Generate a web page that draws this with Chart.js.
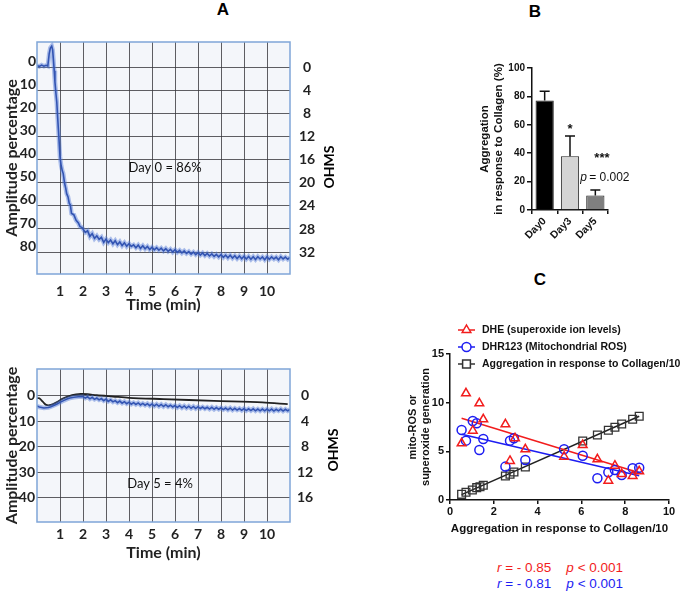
<!DOCTYPE html>
<html>
<head>
<meta charset="utf-8">
<script src="https://cdn.jsdelivr.net/npm/chart.js@4.4.1/dist/chart.umd.min.js"></script>
<style>
  body { margin: 0; background: #fff; }
  #page { position: relative; width: 685px; height: 596px; overflow: hidden; font-family: "Liberation Sans", Arial, sans-serif; }
  canvas { position: absolute; }
  .lbl { position: absolute; font-weight: bold; font-size: 17px; transform: translate(-50%, -50%); }
  .ohms { position: absolute; font-family: Lato, sans-serif; font-weight: bold; font-size: 14px; transform: translate(-50%, -50%) rotate(-90deg); }
  .stat { position: absolute; font-size: 13.5px; white-space: pre; transform: translate(-50%, -50%); }
</style>
</head>
<body>
<div id="page">
  <canvas id="traceDay0" width="350" height="278" style="left:0;top:36px;width:350px;height:278px"></canvas>
  <canvas id="traceDay5" width="350" height="200" style="left:0;top:362px;width:350px;height:200px"></canvas>
  <canvas id="aggBars" width="165" height="185" style="left:478px;top:60px;width:165px;height:185px"></canvas>
  <canvas id="rosCorr" width="277" height="226" style="left:406px;top:310px;width:277px;height:226px"></canvas>

  <div class="lbl" style="left:223px;top:10px">A</div>
  <div class="lbl" style="left:535px;top:12px">B</div>
  <div class="lbl" style="left:540px;top:280px">C</div>
  <div class="ohms" style="left:328px;top:167px">OHMS</div>
  <div class="ohms" style="left:332px;top:450px">OHMS</div>
  <div class="stat" style="left:560px;top:567px;color:#f21d1d"><i>r</i> = - 0.85    <i>p</i> &lt; 0.001</div>
  <div class="stat" style="left:560px;top:583px;color:#1d1df2"><i>r</i> = - 0.81    <i>p</i> &lt; 0.001</div>
</div>
<script>
// ---- Panel A : aggregometer traces (time in min, amplitude %) ----
const minuteTicks = [1, 2, 3, 4, 5, 6, 7, 8, 9, 10];
const amplitudeTicksDay0 = [0, 10, 20, 30, 40, 50, 60, 70, 80];
const ohmsTicksDay0 = [0, 4, 8, 12, 16, 20, 24, 28, 32];
const amplitudeTicksDay5 = [0, 10, 20, 30, 40];
const ohmsTicksDay5 = [0, 4, 8, 12, 16];

const dayZeroTime = [0, 0.1, 0.2, 0.3, 0.4, 0.47, 0.53, 0.58, 0.64, 0.68, 0.71, 0.75, 0.78, 0.82, 0.86, 0.9, 0.95, 1.0, 1.05, 1.1,
  1.14, 1.2, 1.25, 1.29, 1.35, 1.4, 1.45, 1.5, 1.6, 1.7, 1.8, 1.87, 1.95, 2.0,
  2.1, 2.2, 2.3, 2.4, 2.5, 2.6, 2.7, 2.8, 2.9, 3.0, 3.1, 3.2, 3.3, 3.4, 3.5, 3.6, 3.7, 3.8, 3.9, 4.0,
  4.1, 4.2, 4.3, 4.4, 4.5, 4.6, 4.7, 4.8, 4.9, 5.0, 5.1, 5.2, 5.3, 5.4, 5.5, 5.6, 5.7, 5.8, 5.9, 6.0,
  6.1, 6.2, 6.3, 6.4, 6.5, 6.6, 6.7, 6.8, 6.9, 7.0, 7.1, 7.2, 7.3, 7.4, 7.5, 7.6, 7.7, 7.8, 7.9, 8.0,
  8.1, 8.2, 8.3, 8.4, 8.5, 8.6, 8.7, 8.8, 8.9, 9.0, 9.1, 9.2, 9.3, 9.4, 9.5, 9.6, 9.7, 9.8, 9.9, 10.0,
  10.1, 10.2, 10.3, 10.4, 10.5, 10.6, 10.7, 10.8, 10.9, 11.0];
const dayZeroAmplitude = [-0.8, -0.4, -1.0, -0.5, -0.9, -0.6, -5.9, -8.4, -9.2, -7.6, -3.8, 1.5, 6.3, 11.0, 15.0, 22.0, 30.0, 38.8, 42.5, 44.8,
  46.0, 50.2, 52.4, 54.7, 56.1, 58.8, 59.6, 63.3, 63.8, 66.2, 67.4, 69.0, 69.3, 70.0,
  71.5, 70.8, 73.2, 72.0, 74.1, 73.0, 74.5, 73.6, 75.8, 74.4, 75.9, 74.8, 76.4, 75.1, 76.8, 75.6, 77.2, 76.0, 77.5, 76.4,
  77.6, 76.9, 78.1, 77.0, 78.4, 77.3, 78.6, 77.6, 78.9, 77.9, 79.0, 78.1, 79.2, 78.3, 79.5, 78.5, 79.7, 78.8, 80.0, 79.0,
  80.1, 79.3, 80.4, 79.5, 80.6, 79.8, 80.9, 80.0, 81.1, 80.2, 81.3, 80.4, 81.5, 80.6, 81.7, 80.8, 81.9, 81.0, 82.1, 81.1,
  82.3, 81.3, 82.5, 81.4, 82.6, 81.6, 82.8, 81.7, 82.9, 81.8, 83.0, 81.9, 83.1, 82.0, 83.2, 82.0, 83.0, 82.1, 83.3, 82.0,
  83.1, 82.1, 83.0, 82.2, 83.3, 82.0, 83.0, 82.2, 83.1, 82.3];

const dayFiveTime = [0, 0.1, 0.2, 0.3, 0.4, 0.5, 0.6, 0.7, 0.85, 1.0, 1.15, 1.3, 1.43, 1.6, 1.8, 2.0,
  2.1, 2.2, 2.3, 2.4, 2.5, 2.6, 2.7, 2.8, 2.9, 3.0, 3.1, 3.2, 3.3, 3.4, 3.5, 3.6, 3.7, 3.8, 3.9, 4.0,
  4.1, 4.2, 4.3, 4.4, 4.5, 4.6, 4.7, 4.8, 4.9, 5.0, 5.1, 5.2, 5.3, 5.4, 5.5, 5.6, 5.7, 5.8, 5.9, 6.0,
  6.1, 6.2, 6.3, 6.4, 6.5, 6.6, 6.7, 6.8, 6.9, 7.0, 7.1, 7.2, 7.3, 7.4, 7.5, 7.6, 7.7, 7.8, 7.9, 8.0,
  8.1, 8.2, 8.3, 8.4, 8.5, 8.6, 8.7, 8.8, 8.9, 9.0, 9.1, 9.2, 9.3, 9.4, 9.5, 9.6, 9.7, 9.8, 9.9, 10.0,
  10.1, 10.2, 10.3, 10.4, 10.5, 10.6, 10.7, 10.8, 10.9, 11.0];
const dayFiveAmplitude = [4.0, 4.4, 4.6, 4.8, 4.7, 4.6, 4.3, 3.9, 3.3, 2.6, 1.9, 1.3, 0.9, 0.6, 0.4, 0.3,
  0.9, 0.4, 1.2, 0.6, 1.4, 0.9, 1.6, 1.1, 1.9, 1.3, 2.2, 1.6, 2.4, 1.9, 2.7, 2.1, 2.9, 2.3, 3.1, 2.5,
  3.3, 2.7, 3.4, 2.8, 3.6, 3.0, 3.7, 3.1, 3.9, 3.2, 4.0, 3.3, 4.1, 3.4, 4.2, 3.5, 4.3, 3.7, 4.4, 3.8,
  4.6, 3.9, 4.7, 4.0, 4.8, 4.1, 4.9, 4.2, 5.0, 4.3, 5.0, 4.4, 5.1, 4.5, 5.2, 4.5, 5.3, 4.6, 5.3, 4.7,
  5.4, 4.8, 5.5, 4.8, 5.6, 4.9, 5.6, 5.0, 5.7, 5.0, 5.8, 5.1, 5.8, 5.1, 5.9, 5.2, 5.9, 5.2, 5.9, 5.2,
  5.9, 5.2, 6.0, 5.3, 5.9, 5.2, 6.0, 5.3, 5.9, 5.4];
const dayFiveBaseTime = [0, 0.1, 0.27, 0.4, 0.6, 0.85, 1.1, 1.4, 1.7, 1.9, 2.2, 2.6, 3.3, 4.0, 5.5, 7.7, 9.8, 10.9];
const dayFiveBaseAmplitude = [0.9, 1.0, 2.5, 3.6, 3.6, 2.6, 1.2, 0.1, -0.5, -0.7, -0.6, -0.2, 0.3, 0.8, 1.3, 2.0, 2.6, 3.3];

// ---- Panel B : aggregation in response to collagen (%) ----
const dayLabels = ['Day0', 'Day3', 'Day5'];
const aggregationMean = [77.2, 37.9, 10.2];
const aggregationSem = [6.5, 14.2, 3.8];

// ---- Panel C : ROS vs aggregation/10 ----
const dheX = [0.53, 0.73, 1.04, 1.34, 1.52, 2.53, 2.74, 2.97, 3.44, 5.21, 6.06, 6.73, 7.23, 7.53, 7.84, 8.34, 8.64];
const dheY = [5.83, 10.96, 7.12, 9.93, 8.29, 7.78, 4.01, 6.34, 5.21, 4.45, 5.65, 4.18, 1.98, 3.52, 2.67, 2.47, 2.95];
const dhrX = [0.53, 0.73, 1.04, 1.22, 1.34, 1.52, 2.53, 2.74, 2.92, 3.44, 5.21, 6.06, 6.73, 7.23, 7.53, 7.84, 8.34, 8.64];
const dhrY = [7.19, 6.10, 8.12, 7.88, 5.14, 6.27, 3.43, 6.10, 6.34, 4.11, 5.21, 4.55, 2.23, 2.85, 3.08, 2.57, 3.26, 3.32];
const aggX = [0.53, 0.73, 1.02, 1.22, 1.37, 1.52, 2.53, 2.74, 2.92, 3.44, 6.06, 6.73, 7.23, 7.53, 7.84, 8.34, 8.64];
const aggY = [0.58, 0.79, 1.03, 1.27, 1.37, 1.51, 2.47, 2.64, 2.88, 3.39, 6.06, 6.68, 7.16, 7.47, 7.81, 8.29, 8.60];
const fitX = [0.53, 8.64];
const dheFitY = [8.4, 2.8];
const dhrFitY = [6.75, 2.5];
const aggFitY = [0.55, 8.6];

const RED = '#f21d1d';
const BLUE = '#1d1df2';
const INK = '#111';

function toPoints(xs, ys) {
    return xs.map((x, i) => ({ x: x, y: ys[i] }));
}

// fond "papier" + cadre bleu du tracé
const paper = {
    id: 'paper',
    beforeDraw(chart, args, opts) {
        if (!opts.fill) return;
        const { ctx, chartArea: a } = chart;
        ctx.save();
        ctx.fillStyle = opts.fill;
        ctx.fillRect(a.left, a.top, a.width, a.height);
        ctx.restore();
    },
    afterDraw(chart, args, opts) {
        if (!opts.frame) return;
        const { ctx, chartArea: a } = chart;
        ctx.save();
        ctx.strokeStyle = opts.frame;
        ctx.lineWidth = 1.5;
        ctx.strokeRect(a.left, a.top, a.width, a.height);
        ctx.restore();
    }
};

// textes placés en coordonnées de données
const notes = {
    id: 'notes',
    afterDatasetsDraw(chart, args, opts) {
        if (!opts.items) return;
        const { ctx, scales } = chart;
        ctx.save();
        opts.items.forEach(n => {
            ctx.font = n.font;
            ctx.fillStyle = n.color || INK;
            ctx.textAlign = n.align || 'center';
            ctx.textBaseline = 'middle';
            ctx.fillText(n.text, scales.x.getPixelForValue(n.x) + (n.dx || 0), scales.y.getPixelForValue(n.y));
        });
        ctx.restore();
    }
};

// barres d'erreur (vers le haut seulement)
const errorBars = {
    id: 'errorBars',
    afterDatasetsDraw(chart) {
        const { ctx, scales: { y } } = chart;
        chart.data.datasets.forEach((ds, i) => {
            if (!ds.errorPlus) return;
            chart.getDatasetMeta(i).data.forEach((bar, j) => {
                const top = y.getPixelForValue(ds.data[j] + ds.errorPlus[j]);
                ctx.save();
                ctx.strokeStyle = INK;
                ctx.lineWidth = 1.5;
                ctx.beginPath();
                ctx.moveTo(bar.x, bar.y);
                ctx.lineTo(bar.x, top);
                ctx.moveTo(bar.x - 5, top);
                ctx.lineTo(bar.x + 5, top);
                ctx.stroke();
                ctx.restore();
            });
        });
    }
};

function drawMarker(ctx, style, r, x, y) {
    ctx.beginPath();
    if (style === 'circle') {
        ctx.arc(x, y, r, 0, Math.PI * 2);
    } else if (style === 'triangle') {
        ctx.moveTo(x, y - r);
        ctx.lineTo(x + r * 0.866, y + r * 0.5);
        ctx.lineTo(x - r * 0.866, y + r * 0.5);
        ctx.closePath();
    } else {
        const s = r * Math.SQRT1_2;
        ctx.rect(x - s, y - s, 2 * s, 2 * s);
    }
    ctx.fill();
    ctx.stroke();
}

// légende "ligne + symbole" dans la zone du graphique
const lineLegend = {
    id: 'lineLegend',
    afterDraw(chart, args, opts) {
        if (!opts.items) return;
        const { ctx, chartArea } = chart;
        ctx.save();
        ctx.font = opts.font;
        ctx.textBaseline = 'middle';
        opts.items.forEach((idx, i) => {
            const ds = chart.data.datasets[idx];
            const y = chartArea.top + opts.top + i * opts.rowHeight;
            const x0 = chartArea.left + opts.left;
            ctx.strokeStyle = ds.borderColor;
            ctx.lineWidth = 1.5;
            ctx.beginPath();
            ctx.moveTo(x0, y);
            ctx.lineTo(x0 + opts.lineLength, y);
            ctx.stroke();
            ctx.fillStyle = '#fff';
            drawMarker(ctx, ds.pointStyle, ds.pointRadius, x0 + opts.lineLength / 2, y);
            ctx.fillStyle = INK;
            ctx.fillText(ds.label, x0 + opts.lineLength + 7, y);
        });
        ctx.restore();
    }
};

const fontA = { family: 'Lato', weight: 'bold', size: 14 };
const titleFontA = { family: 'Lato', weight: 'bold', size: 16 };
const gridA = 'rgba(55,55,60,0.8)';

// pas de marge automatique autour des axes : la zone de tracé est fixée à la main
function noPad(s) {
    s.paddingTop = 0;
    s.paddingBottom = 0;
    s.paddingLeft = 0;
    s.paddingRight = 0;
}

function traceOptions(cfg) {
    return {
        responsive: false,
        animation: false,
        devicePixelRatio: 1,
        layout: { padding: { top: cfg.padTop, left: 0, right: 0, bottom: 0 } },
        plugins: {
            legend: { display: false },
            tooltip: { enabled: false },
            paper: { fill: '#f4f6fa', frame: '#7fa5d8' },
            notes: { items: cfg.notes }
        },
        scales: {
            x: {
                type: 'linear', min: 0, max: 11,
                afterBuildTicks: s => { s.ticks = minuteTicks.map(v => ({ value: v })); },
                afterFit: s => { s.height = cfg.xHeight; noPad(s); },
                grid: { color: gridA, drawTicks: false },
                border: { display: false },
                ticks: { font: fontA, color: '#222', padding: cfg.xPad },
                title: { display: true, text: 'Time (min)', font: titleFontA, color: '#222', padding: { top: 0, bottom: 0 } }
            },
            y: {
                type: 'linear', position: 'left', reverse: true, min: cfg.min, max: cfg.max,
                afterBuildTicks: s => { s.ticks = cfg.leftTicks.map(v => ({ value: v })); },
                afterFit: s => { s.width = 37; noPad(s); },
                grid: { color: gridA, drawTicks: false },
                border: { display: false },
                ticks: { font: fontA, color: '#222', padding: cfg.yPad, labelOffset: cfg.yOffset },
                title: { display: true, text: 'Amplitude percentage', font: titleFontA, color: '#222', padding: { top: 2, bottom: 0 } }
            },
            ohms: {
                type: 'linear', position: 'right', reverse: true, min: cfg.min / 2.5, max: cfg.max / 2.5,
                afterBuildTicks: s => { s.ticks = cfg.rightTicks.map(v => ({ value: v })); },
                afterFit: s => { s.width = 60; noPad(s); },
                grid: { display: false, drawTicks: false },
                border: { display: false },
                ticks: { font: fontA, color: '#222', padding: cfg.rPad, crossAlign: 'center' }
            }
        }
    };
}

new Chart(document.getElementById('traceDay0'), {
    type: 'line',
    data: {
        datasets: [
            { data: toPoints(dayZeroTime, dayZeroAmplitude), borderColor: 'rgba(80,120,215,0.45)', borderWidth: 4.5, pointRadius: 0 },
            { data: toPoints(dayZeroTime, dayZeroAmplitude), borderColor: '#1b3794', borderWidth: 1.6, pointRadius: 0 }
        ]
    },
    options: traceOptions({
        padTop: 6, min: -11, max: 89.5, xHeight: 40, xPad: 9, yPad: 1, yOffset: -6, rPad: 9,
        leftTicks: amplitudeTicksDay0, rightTicks: ohmsTicksDay0,
        notes: [{ text: 'Day 0 = 86%', x: 5.57, y: 43.7, font: '13px Lato' }]
    }),
    plugins: [paper, notes]
});

new Chart(document.getElementById('traceDay5'), {
    type: 'line',
    data: {
        datasets: [
            { data: toPoints(dayFiveTime, dayFiveAmplitude), borderColor: 'rgba(80,120,215,0.45)', borderWidth: 4.5, pointRadius: 0 },
            { data: toPoints(dayFiveTime, dayFiveAmplitude), borderColor: '#1b3794', borderWidth: 1.6, pointRadius: 0 },
            { data: toPoints(dayFiveBaseTime, dayFiveBaseAmplitude), borderColor: '#222', borderWidth: 1.8, pointRadius: 0, tension: 0.3 }
        ]
    },
    options: traceOptions({
        padTop: 7, min: -10.5, max: 49.5, xHeight: 40, xPad: 4, yPad: 2, yOffset: 0, rPad: 7,
        leftTicks: amplitudeTicksDay5, rightTicks: ohmsTicksDay5,
        notes: [{ text: 'Day 5 = 4%', x: 5.35, y: 34.6, font: '13px Lato' }]
    }),
    plugins: [paper, notes]
});

new Chart(document.getElementById('aggBars'), {
    type: 'bar',
    data: {
        labels: dayLabels,
        datasets: [{
            data: aggregationMean,
            errorPlus: aggregationSem,
            backgroundColor: ['#000000', '#d4d4d4', '#7f7f7f'],
            borderColor: '#222',
            borderWidth: 1,
            barPercentage: 0.72,
            categoryPercentage: 1
        }]
    },
    options: {
        responsive: false,
        animation: false,
        devicePixelRatio: 1,
        layout: { padding: { top: 6, right: 35, left: 0, bottom: 0 } },
        plugins: {
            legend: { display: false },
            tooltip: { enabled: false },
            notes: {
                items: [
                    { text: '*', x: 1, y: 57, font: 'bold 13px "Liberation Sans"' },
                    { text: '***', x: 2.26, y: 36.5, font: 'bold 13px "Liberation Sans"' },
                    { text: 'p', x: 1.4, y: 23, font: 'italic 12px "Liberation Sans"', align: 'left' },
                    { text: '= 0.002', x: 1.4, y: 23, dx: 9, font: '12px "Liberation Sans"', align: 'left' }
                ]
            }
        },
        scales: {
            x: {
                afterFit: s => { s.height = 35; },
                grid: { drawOnChartArea: false, tickLength: 4, color: INK, lineWidth: 1.5 },
                border: { color: INK, width: 1.5 },
                ticks: { font: { weight: 'bold', size: 10.5 }, color: INK, minRotation: 45, maxRotation: 45, padding: 1 }
            },
            y: {
                min: 0, max: 100,
                afterFit: s => { s.width = 54; },
                grid: { drawOnChartArea: false, tickLength: 5, color: INK, lineWidth: 1.5 },
                border: { color: INK, width: 1.5 },
                ticks: { stepSize: 20, font: { weight: 'bold', size: 10 }, color: INK, padding: 2 },
                title: { display: true, text: ['Aggregation', 'in response to Collagen (%)'], font: { weight: 'bold', size: 11.5 }, color: INK, padding: 0 }
            }
        }
    },
    plugins: [notes, errorBars]
});

new Chart(document.getElementById('rosCorr'), {
    type: 'scatter',
    data: {
        datasets: [
            { label: 'DHE (superoxide ion levels)', data: toPoints(dheX, dheY), pointStyle: 'triangle', pointRadius: 5,
              borderColor: RED, pointBorderWidth: 1.5, backgroundColor: 'rgba(0,0,0,0)' },
            { label: 'DHR123 (Mitochondrial ROS)', data: toPoints(dhrX, dhrY), pointStyle: 'circle', pointRadius: 4.5,
              borderColor: BLUE, pointBorderWidth: 1.5, backgroundColor: 'rgba(0,0,0,0)' },
            { label: 'Aggregation in response to Collagen/10', data: toPoints(aggX, aggY), pointStyle: 'rect', pointRadius: 5.5,
              borderColor: '#333', pointBorderWidth: 1.3, backgroundColor: 'rgba(0,0,0,0)' },
            { type: 'line', data: toPoints(fitX, dheFitY), borderColor: RED, borderWidth: 1.5, pointRadius: 0 },
            { type: 'line', data: toPoints(fitX, dhrFitY), borderColor: BLUE, borderWidth: 1.5, pointRadius: 0 },
            { type: 'line', data: toPoints(fitX, aggFitY), borderColor: '#222', borderWidth: 1.5, pointRadius: 0 }
        ]
    },
    options: {
        responsive: false,
        animation: false,
        devicePixelRatio: 1,
        layout: { padding: { top: 44, right: 14, left: 0, bottom: 0 } },
        plugins: {
            legend: { display: false },
            tooltip: { enabled: false },
            lineLegend: { items: [0, 1, 2], font: 'bold 10.5px "Liberation Sans"', top: -24, rowHeight: 17, left: 8, lineLength: 17 }
        },
        scales: {
            x: {
                type: 'linear', min: 0, max: 10,
                afterFit: s => { s.height = 36; },
                grid: { drawOnChartArea: false, tickLength: 4, color: INK, lineWidth: 1.5 },
                border: { color: INK, width: 1.5 },
                ticks: { stepSize: 2, font: { weight: 'bold', size: 11 }, color: INK, padding: 1 },
                title: { display: true, text: 'Aggregation in response to Collagen/10', font: { weight: 'bold', size: 11.5 }, color: INK, padding: 0 }
            },
            y: {
                type: 'linear', min: 0, max: 15,
                afterFit: s => { s.width = 44; },
                grid: { drawOnChartArea: false, tickLength: 4, color: INK, lineWidth: 1.5 },
                border: { color: INK, width: 1.5 },
                ticks: { stepSize: 5, font: { weight: 'bold', size: 11 }, color: INK, padding: 2 },
                title: { display: true, text: ['mito-ROS or', 'superoxide generation'], font: { weight: 'bold', size: 11 }, color: INK, padding: 0 }
            }
        }
    },
    plugins: [lineLegend]
});
</script>
</body>
</html>
